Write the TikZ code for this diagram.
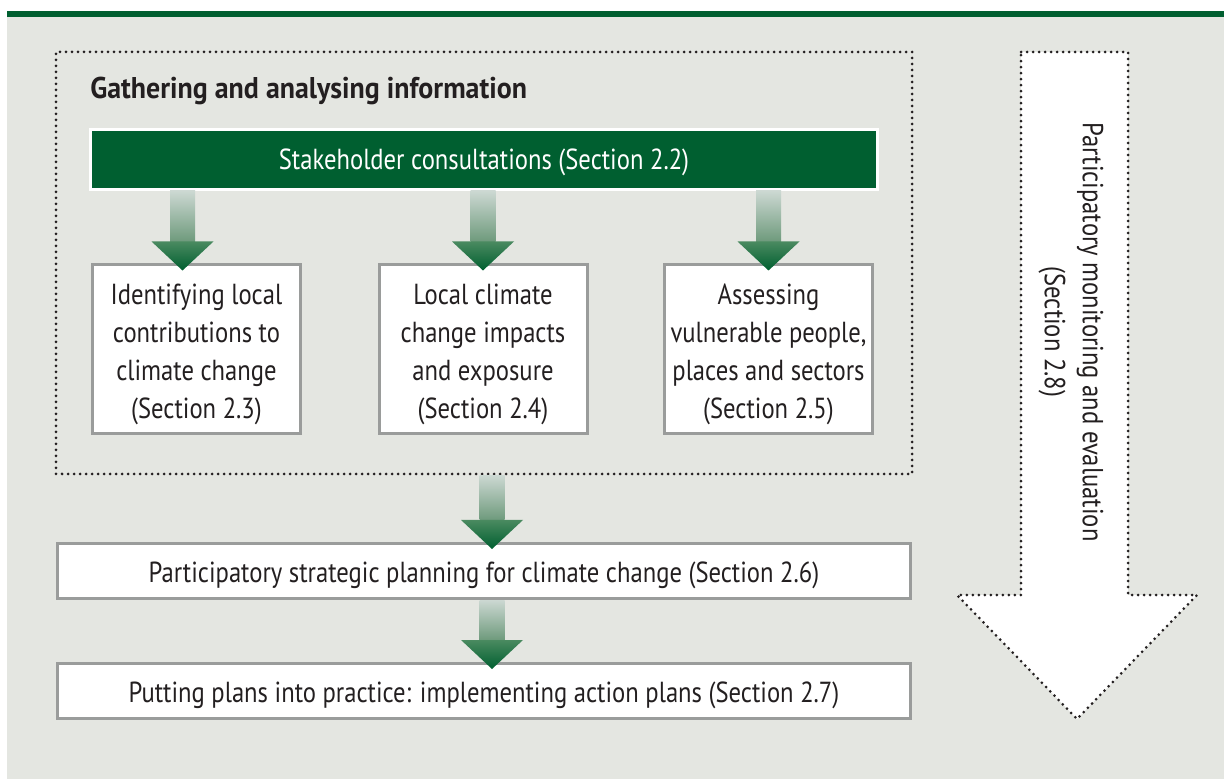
\documentclass[tikz,border=0pt]{standalone}
\usepackage{fontspec}
\setmainfont{PT Sans}[FakeStretch=0.85]
\newfontfamily\policetitre{PT Sans}[FakeStretch=0.93]
\usetikzlibrary{calc}
\definecolor{vertfonce}{HTML}{005F30}
\definecolor{fond}{HTML}{E4E6E1}
\definecolor{grisbord}{HTML}{9A9C9B}
\definecolor{texte}{HTML}{231F20}
\definecolor{flecheclair}{HTML}{CCD8D2}
\definecolor{flechemoyen}{HTML}{6E9A7C}
\definecolor{flechetete}{HTML}{4A8A60}
\begin{document}
\begin{tikzpicture}[x=0.5pt,y=-0.5pt]
% Styles
\tikzstyle{texteetape}=[font=\fontsize{14.5}{19}\selectfont,text=texte]
\tikzstyle{etape}=[texteetape,draw=grisbord,line width=1.5pt,fill=white,inner sep=0pt,align=center]
\tikzstyle{etapebloc}=[etape,minimum width=104pt,minimum height=84.5pt,text height=72.5pt]
\tikzstyle{etapeligne}=[etape,minimum width=426.5pt,minimum height=27.5pt,text height=14.5pt]
\tikzstyle{bandeau}=[texteetape,draw=white,line width=1.5pt,fill=vertfonce,text=white,inner sep=0pt,text height=13pt]
\tikzstyle{pointille}=[texte,line width=1.5pt,dash pattern=on 0pt off 3pt,line cap=round]
% Fleche pleine : depart, pointe
\def\flecheBloc#1#2{%
\shade[top color=flecheclair,bottom color=flechemoyen] ($(#1)+(-12.5,0)$) rectangle ($(#2)+(12.5,-29)$);
\shade[top color=flechetete,bottom color=vertfonce] ($(#2)+(-31,-29)$) -- ($(#2)+(31,-29)$) -- (#2) -- cycle;}
% Fond
\useasboundingbox (0,0) rectangle (1224,779);
\fill[white] (0,0) rectangle (1224,779);
\fill[fond] (7,17) rectangle (1224,779);
\fill[vertfonce] (7,11) rectangle (1224,17);
% Cadre de la collecte d'information
\node[pointille,draw,minimum width=428pt,minimum height=211pt,inner sep=0pt] (collecte) at (484,263) {};
\node[anchor=base west,inner sep=0pt,font=\fontsize{15}{19}\selectfont\policetitre\bfseries,text=texte] (titre) at (90,99) {Gathering and analysing information};
\node[bandeau,minimum width=393.5pt,minimum height=30pt] (consult) at (484,159.5) {Stakeholder consultations (Section 2.2)};
% Les trois etapes
\node[etapebloc] (contrib) at (196.5,349.5) {Identifying local\\contributions to\\climate change\\(Section 2.3)};
\node[etapebloc] (impacts) at (483,349.5) {Local climate\\change impacts\\and exposure\\(Section 2.4)};
\node[etapebloc] (vulner) at (768.5,349.5) {Assessing\\vulnerable people,\\places and sectors\\(Section 2.5)};
% Planification et mise en oeuvre
\node[etapeligne] (planif) at (484,571) {Participatory strategic planning for climate change (Section 2.6)};
\node[etapeligne] (pratique) at (484,691) {Putting plans into practice: implementing action plans (Section 2.7)};
% Fleches
\coordinate (p1) at ($(contrib.north)+(-14,7)$);
\coordinate (p4) at ($(planif.north)+(8,7)$);
\coordinate (p5) at ($(pratique.north)+(8,7)$);
\flecheBloc{consult.south -| p1}{p1}
\flecheBloc{consult.south -| impacts.north}{$(impacts.north)+(0,7)$}
\flecheBloc{consult.south -| vulner.north}{$(vulner.north)+(0,7)$}
\flecheBloc{collecte.south -| p4}{p4}
\flecheBloc{planif.south -| p5}{p5}
% Suivi et evaluation
\draw[pointille,fill=white] (1021,52) -- (1128,52) -- (1128,595) -- (1197,595) -- (1077,719) -- (957,595) -- (1021,595) -- cycle;
\node[texteetape,rotate=-90,align=center] (suivi) at (1071,332) {Participatory monitoring and evaluation\\(Section 2.8)};
\end{tikzpicture}
\end{document}
